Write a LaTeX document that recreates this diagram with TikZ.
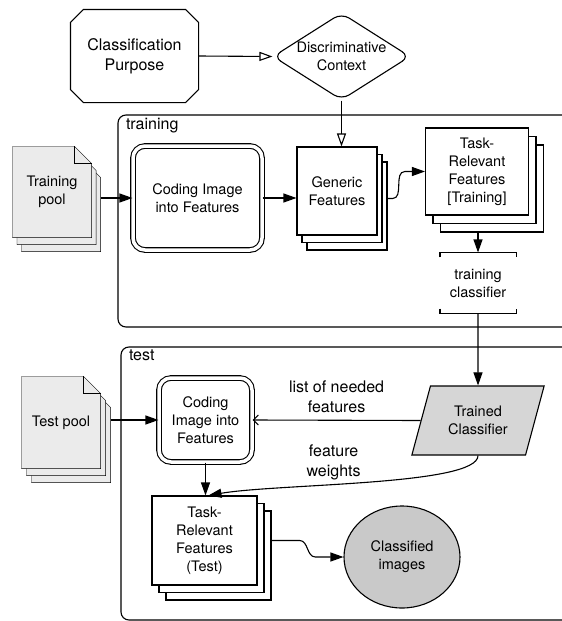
\documentclass[tikz,border=0pt]{standalone}
\usepackage{fontspec}
\setmainfont{TeX Gyre Heros}
\usetikzlibrary{arrows.meta,shapes.geometric,shadows,calc,backgrounds}

\begin{document}
\begin{tikzpicture}[x=1pt,y=-1pt,
  line width=1.1pt,
  every node/.style={font=\fontsize{14.5}{18}\selectfont, align=center, inner sep=0pt},
  bigfont/.style={font=\fontsize{16}{20}\selectfont},
  arr/.style={-{Triangle[length=13pt,width=9pt]}},
  openarr/.style={-{Triangle[open,length=13pt,width=9pt]}},
  barbarr/.style={-{Straight Barb[length=5pt,width=10pt]}},
  group/.style={draw, rounded corners=8pt},
  page/.style={draw, fill=black!8},
  pagestack/.style 2 args={draw, fill=white,
    copy shadow={shadow xshift=2*#1, shadow yshift=-2*#2, draw=black, fill=white},
    copy shadow={shadow xshift=#1, shadow yshift=-#2, draw=black, fill=white}},
  coding/.style={draw, double, double distance=3.5pt, rounded corners=12pt}
]
\useasboundingbox (0,0) rectangle (562,621);
\clip (0,0) rectangle (562,621);

% the two stages
\node[group, minimum width=462pt, minimum height=212pt,
      label={[anchor=north west, xshift=8pt, yshift=-3pt, bigfont]north west:training}
] (trgroup) at (349,221) {};
\node[group, minimum width=459pt, minimum height=273pt,
      label={[anchor=north west, xshift=8pt, yshift=-3pt, bigfont]north west:test}
] (tegroup) at (350.5,483.5) {};

% top
\node[minimum width=127pt, minimum height=92pt, bigfont] (purpose) at (134.5,56) {Classification\\Purpose};
\draw ([xshift=13pt]purpose.north west) -- ([xshift=-13pt]purpose.north east)
   -- ([yshift=-13pt]purpose.north east) -- ([yshift=13pt]purpose.south east)
   -- ([xshift=-13pt]purpose.south east) -- ([xshift=13pt]purpose.south west)
   -- ([yshift=13pt]purpose.south west) -- ([yshift=-13pt]purpose.north west) -- cycle;
\node[draw, diamond, aspect=1.57, rounded corners=9pt,
      minimum width=137pt, minimum height=87pt] (context) at (341.5,56.5) {Discriminative\\Context};

% training
\node[minimum width=78pt, minimum height=90pt] (trpool) at (52,192) {Training\\pool};
\node[coding, minimum width=129pt, minimum height=104pt] (trcoding) at (197.5,198) {Coding Image\\into Features};
\node[pagestack={5pt}{7.5pt}, minimum width=80pt, minimum height=88pt] (generic) at (337,191) {Generic\\Features};
\node[pagestack={7.5pt}{8.5pt}, minimum width=103pt, minimum height=87pt] (trtask) at (477,171.5) {Task-\\Relevant\\Features\\{[Training]}};
\node[minimum width=75pt, minimum height=60pt] (trclass) at (478,283) {training\\classifier};

% test
\node[minimum width=78pt, minimum height=91pt] (tepool) at (61,422.5) {Test pool};
\node[coding, minimum width=93pt, minimum height=84pt] (tecoding) at (205.5,420) {Coding\\Image into\\Features};
\node[draw, fill=black!16, trapezium, trapezium left angle=68, trapezium right angle=112,
      trapezium stretches=true, minimum width=133pt, minimum height=69pt] (trained) at (478,420.5) {Trained\\Classifier};
\node[pagestack={7pt}{7.5pt}, minimum width=105pt, minimum height=89pt] (tetask) at (204.5,540.5) {Task-\\Relevant\\Features\\(Test)};
\node[draw, fill=black!21, ellipse, minimum width=116pt, minimum height=102pt] (classified) at (402,557) {Classified\\images};

% paper piles behind the two pools
\begin{scope}[on background layer]
\foreach \pool/\dx/\dy in {trpool/4.5/7, tepool/5/7}{
  \foreach \s in {2,1,0}
    \draw[page, transform canvas={shift={(\s*\dx pt,-\s*\dy pt)}}]
      (\pool.north west) -- ([xshift=-17pt]\pool.north east) -- ([yshift=-17pt]\pool.north east)
      -- (\pool.south east) -- (\pool.south west) -- cycle;
  \draw ([xshift=-17pt]\pool.north east) |- ([yshift=-17pt]\pool.north east); %<-- folded corner
}
\end{scope}

% bracket round the training step
\draw (trclass.north west) ++(0,5) -- (trclass.north west) -- (trclass.north east) -- ++(0,5);
\draw (trclass.south west) ++(0,-5) -- (trclass.south west) -- (trclass.south east) -- ++(0,-5);

% connectors
\draw[openarr] (purpose.east) -- (context.west);
\draw[openarr] (context.south) -- (context.south |- generic.north);
\draw[arr] (trcoding.west -| trpool.east) ++(9,0) -- (trcoding.west);
\draw[arr] (trcoding.east) -- (trcoding.east -| generic.west);
\draw[arr] (generic.east) ++(10,7.5) -- ++(5,0) to[out=0,in=180] ([xshift=-20pt]trtask.west) -- (trtask.west);
\draw[arr] (trclass.north |- trtask.south) ++(0,17) -- (trclass.north);
\draw[arr] (trclass.south) -- (trained.north);
\draw[arr] (tecoding.west -| tepool.east) ++(10,0) -- (tecoding.west);
\draw[barbarr] (trained.west) -- node[above=7pt, bigfont] {list of needed\\features} (tecoding.east);
\draw[arr] (tecoding.south) -- (tecoding.south |- tetask.north);
\draw[arr] (trained.south) .. controls +(0,30) and +(70,-12) .. node[pos=0.6, above=4pt, bigfont] {feature\\weights} ([xshift=4pt]tetask.north);
\draw[arr] (tetask.east) ++(14,0) -- ++(28,0) to[out=0,in=180] ([xshift=-28pt]classified.west) -- (classified.west);
\end{tikzpicture}
\end{document}
